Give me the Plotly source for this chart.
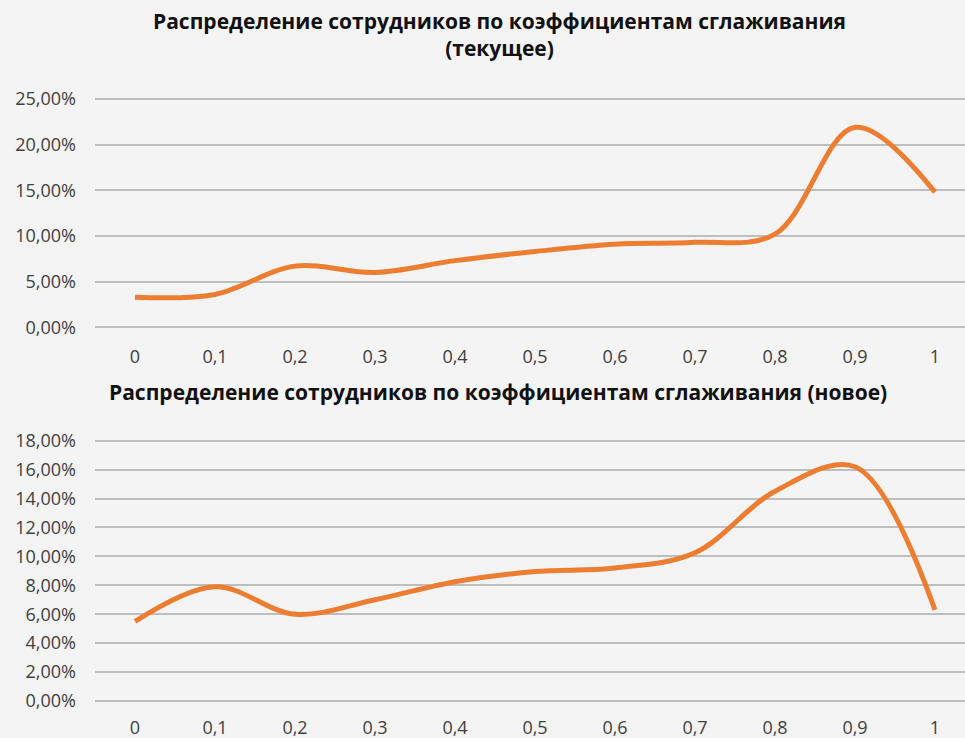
import plotly.graph_objects as go

categories = [0, 0.1, 0.2, 0.3, 0.4, 0.5, 0.6, 0.7, 0.8, 0.9, 1.0]
tick_labels = ["0", "0,1", "0,2", "0,3", "0,4", "0,5", "0,6", "0,7", "0,8", "0,9", "1"]
current_values = [0.033, 0.036, 0.067, 0.060, 0.073, 0.083, 0.091, 0.093, 0.102, 0.219, 0.148]
new_values = [0.055, 0.079, 0.060, 0.070, 0.0825, 0.0895, 0.092, 0.1025, 0.145, 0.162, 0.063]

title_top = "Распределение сотрудников по коэффициентам сглаживания<br>(текущее)"
title_bottom = "Распределение сотрудников по коэффициентам сглаживания (новое)"

y_top_ticks = [0, 0.05, 0.10, 0.15, 0.20, 0.25]
y_top_labels = ["0,00%", "5,00%", "10,00%", "15,00%", "20,00%", "25,00%"]
y_bot_ticks = [0, 0.02, 0.04, 0.06, 0.08, 0.10, 0.12, 0.14, 0.16, 0.18]
y_bot_labels = ["0,00%", "2,00%", "4,00%", "6,00%", "8,00%", "10,00%", "12,00%", "14,00%", "16,00%", "18,00%"]

W, H = 965, 738
BG = "#F4F4F4"
ORANGE = "#ED7D31"
GRID = "#BEBEBE"
FONT = "Open Sans"
TICK_COLOR = "#404040"
PAD = 2.0  # px of extra room so edge gridlines are not clipped


def ypx(p):
    return 1 - p / H


def y_layout(top_px, bottom_px, vmax):
    per_px = vmax / (bottom_px - top_px)
    dom = [ypx(bottom_px + PAD), ypx(top_px - PAD)]
    rng = [-PAD * per_px, vmax + PAD * per_px]
    return dom, rng


top_dom, top_rng = y_layout(99, 327.3, 0.25)
bot_dom, bot_rng = y_layout(440.7, 701, 0.18)

fig = go.Figure()
fig.add_trace(go.Scatter(x=categories, y=current_values, mode="lines",
                         line=dict(color=ORANGE, width=5, shape="spline", smoothing=1.0),
                         xaxis="x", yaxis="y", showlegend=False, hoverinfo="skip"))
fig.add_trace(go.Scatter(x=categories, y=new_values, mode="lines",
                         line=dict(color=ORANGE, width=5, shape="spline", smoothing=1.0),
                         xaxis="x2", yaxis="y2", showlegend=False, hoverinfo="skip"))

xdom = [95 / W, 1.0]
xrange = [-0.05, -0.05 + (W - 95) / 800]

common_x = dict(domain=xdom, range=xrange, tickmode="array", tickvals=categories,
                ticktext=tick_labels, showgrid=False, zeroline=False, showline=False,
                ticks="", automargin=False,
                tickfont=dict(family=FONT, size=18, color=TICK_COLOR), fixedrange=True)
common_y = dict(showgrid=True, gridcolor=GRID, gridwidth=2,
                zeroline=True, zerolinecolor=GRID, zerolinewidth=2,
                showline=False, ticks="", ticklabelstandoff=18, automargin=False,
                tickfont=dict(family=FONT, size=18, color=TICK_COLOR), fixedrange=True)

fig.update_layout(
    width=W, height=H,
    paper_bgcolor=BG, plot_bgcolor=BG,
    margin=dict(l=0, r=0, t=0, b=0, autoexpand=False),
    xaxis=dict(common_x, anchor="y", ticklabelstandoff=15),
    yaxis=dict(common_y, domain=top_dom, range=top_rng,
               tickvals=y_top_ticks, ticktext=y_top_labels, anchor="x"),
    xaxis2=dict(common_x, anchor="y2", ticklabelstandoff=12),
    yaxis2=dict(common_y, domain=bot_dom, range=bot_rng,
                tickvals=y_bot_ticks, ticktext=y_bot_labels, anchor="x2"),
    annotations=[
        dict(text="<b>" + title_top.replace("<br>", "</b><br><b>") + "</b>",
             x=499 / W, y=ypx(35), xref="paper", yref="paper",
             xanchor="center", yanchor="middle", showarrow=False,
             font=dict(family=FONT, size=21, color="#111111"), align="center"),
        dict(text="<b>" + title_bottom + "</b>",
             x=498 / W, y=ypx(392), xref="paper", yref="paper",
             xanchor="center", yanchor="middle", showarrow=False,
             font=dict(family=FONT, size=21, color="#111111"), align="center"),
    ],
)

fig.write_html(
    "out.html",
    config={"displayModeBar": False},
    post_script="document.body.style.margin='0';document.body.style.background='#F4F4F4';",
)
